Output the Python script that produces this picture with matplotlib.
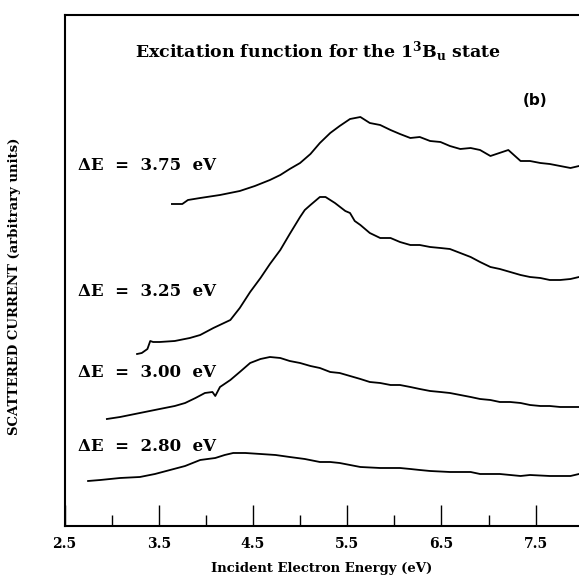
import matplotlib
matplotlib.use('Agg')
import matplotlib.pyplot as plt

# 글꼴 설정
plt.rcParams['font.family'] = ['DejaVu Serif']
plt.rcParams['mathtext.default'] = 'regular'

TITLE_NAME = r'Excitation function for the 1$^{3}$B$_{u}$ state'
X_LABEL = 'Incident Electron Energy (eV)'
Y_LABEL = 'SCATTERED CURRENT (arbitrary units)'

# dE = 3.75 eV
e_375 = [3.64, 3.75, 3.81, 3.94, 4.15, 4.36, 4.52, 4.68, 4.79, 4.89, 5.00, 5.11,
         5.21, 5.32, 5.42, 5.53, 5.64, 5.74, 5.85, 5.96, 6.06, 6.17, 6.27, 6.38,
         6.49, 6.59, 6.70, 6.81, 6.91, 7.02, 7.21, 7.34, 7.44, 7.55, 7.65, 7.76,
         7.87, 7.96]
i_375 = [3.22, 3.22, 3.26, 3.28, 3.31, 3.35, 3.40, 3.46, 3.51, 3.57, 3.63, 3.72,
         3.83, 3.93, 4.00, 4.07, 4.09, 4.03, 4.01, 3.96, 3.92, 3.88, 3.89, 3.85,
         3.84, 3.80, 3.77, 3.78, 3.76, 3.70, 3.76, 3.65, 3.65, 3.63, 3.62, 3.60,
         3.58, 3.60]

# dE = 3.25 eV
e_325 = [3.27, 3.32, 3.38, 3.41, 3.44, 3.51, 3.67, 3.83, 3.94, 4.08, 4.26, 4.36,
         4.47, 4.58, 4.68, 4.79, 4.89, 5.00, 5.05, 5.11, 5.21, 5.27, 5.37, 5.48,
         5.53, 5.58, 5.64, 5.74, 5.85, 5.96, 6.06, 6.17, 6.27, 6.38, 6.49, 6.59,
         6.70, 6.81, 6.91, 7.02, 7.12, 7.23, 7.34, 7.44, 7.55, 7.65, 7.76, 7.87,
         7.96]
i_325 = [1.72, 1.73, 1.77, 1.85, 1.84, 1.84, 1.85, 1.88, 1.91, 1.98, 2.06, 2.18,
         2.34, 2.48, 2.62, 2.76, 2.92, 3.09, 3.16, 3.21, 3.29, 3.29, 3.23, 3.15,
         3.13, 3.05, 3.01, 2.93, 2.88, 2.88, 2.84, 2.81, 2.81, 2.79, 2.78, 2.77,
         2.73, 2.69, 2.64, 2.59, 2.57, 2.54, 2.51, 2.49, 2.48, 2.46, 2.46, 2.47,
         2.49]

# dE = 3.00 eV
e_300 = [2.95, 3.09, 3.30, 3.51, 3.67, 3.78, 3.89, 3.99, 4.07, 4.10, 4.15, 4.26,
         4.36, 4.47, 4.58, 4.68, 4.79, 4.89, 5.00, 5.11, 5.21, 5.32, 5.42, 5.53,
         5.64, 5.74, 5.85, 5.96, 6.06, 6.17, 6.27, 6.38, 6.49, 6.59, 6.70, 6.81,
         6.91, 7.02, 7.12, 7.23, 7.34, 7.44, 7.55, 7.65, 7.76, 7.87, 7.96]
i_300 = [1.07, 1.09, 1.13, 1.17, 1.20, 1.23, 1.28, 1.33, 1.34, 1.30, 1.39, 1.46,
         1.54, 1.63, 1.67, 1.69, 1.68, 1.65, 1.63, 1.60, 1.58, 1.54, 1.53, 1.50,
         1.47, 1.44, 1.43, 1.41, 1.41, 1.39, 1.37, 1.35, 1.34, 1.33, 1.31, 1.29,
         1.27, 1.26, 1.24, 1.24, 1.23, 1.21, 1.20, 1.20, 1.19, 1.19, 1.19]

# dE = 2.80 eV
e_280 = [2.75, 2.88, 3.09, 3.30, 3.46, 3.62, 3.78, 3.94, 4.10, 4.20, 4.29, 4.42,
         4.58, 4.74, 4.89, 5.05, 5.21, 5.32, 5.42, 5.53, 5.64, 5.85, 6.06, 6.17,
         6.27, 6.38, 6.59, 6.81, 6.91, 7.12, 7.23, 7.34, 7.44, 7.65, 7.87, 7.96]
i_280 = [0.45, 0.46, 0.48, 0.49, 0.52, 0.56, 0.60, 0.66, 0.68, 0.71, 0.73, 0.73,
         0.72, 0.71, 0.69, 0.67, 0.64, 0.64, 0.63, 0.61, 0.59, 0.58, 0.58, 0.57,
         0.56, 0.55, 0.54, 0.54, 0.52, 0.52, 0.51, 0.50, 0.51, 0.50, 0.50, 0.52]

curve_labels = ['\u0394E  =  3.75  eV', '\u0394E  =  3.25  eV',
                '\u0394E  =  3.00  eV', '\u0394E  =  2.80  eV']
label_y = [3.60, 2.34, 1.53, 0.79]

tick_major = [2.5, 3.5, 4.5, 5.5, 6.5, 7.5]
tick_minor = [3.0, 4.0, 5.0, 6.0, 7.0]

fig = plt.figure(figsize=(5.79, 5.77), dpi=100)
ax = fig.add_axes([0.1114, 0.0884, 0.8886, 0.8856])

for e, i in [(e_375, i_375), (e_325, i_325), (e_300, i_300), (e_280, i_280)]:
    ax.plot(e, i, color='black', lw=1.3)

for txt, y in zip(curve_labels, label_y):
    ax.text(2.64, y, txt, fontsize=12, fontweight='bold', ha='left', va='center')

ax.text(5.19, 4.74, TITLE_NAME, fontsize=12.5, fontweight='bold', ha='center', va='center')
ax.text(7.49, 4.26, '(b)', fontsize=11, fontweight='bold', family='DejaVu Sans',
        ha='center', va='center')

ax.set_xlim(2.5, 7.96)
ax.set_ylim(0, 5.11)

# 축 설정
ax.spines['right'].set_visible(False)
for s in ['left', 'top', 'bottom']:
    ax.spines[s].set_linewidth(1.5)
ax.set_xticks(tick_major)
ax.set_xticklabels([f'{t:.1f}' for t in tick_major], fontweight='bold', fontsize=10)
ax.set_xticks(tick_minor, minor=True)
ax.tick_params(axis='x', which='major', direction='in', length=15, width=1, pad=8)
ax.tick_params(axis='x', which='minor', direction='in', length=8, width=1)
ax.set_yticks([])

ax.set_xlabel(X_LABEL, fontsize=9.5, fontweight='bold')
ax.xaxis.set_label_coords(0.5, -0.07)
ax.set_ylabel(Y_LABEL, fontsize=9.5, fontweight='bold')
ax.yaxis.set_label_coords(-0.085, 0.47)

fig.savefig('out.png', dpi=100)
